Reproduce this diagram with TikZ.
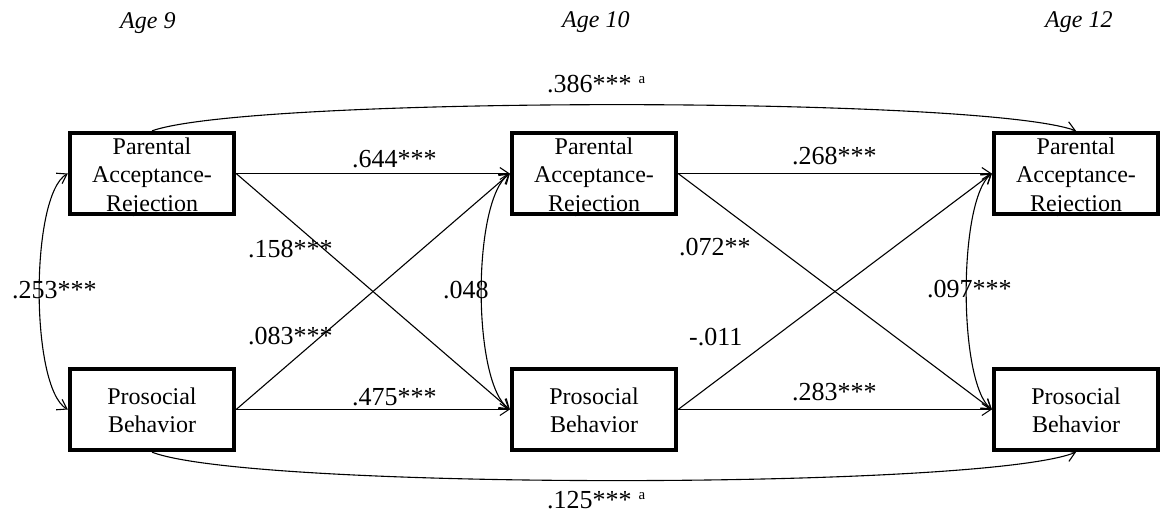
\documentclass[tikz,border=0pt]{standalone}
\usepackage{fontspec}
\setmainfont{Liberation Serif}
\usetikzlibrary{arrows.meta}
\newcommand\stk[1]{\begin{tabular}[t]{@{}c@{}}#1\end{tabular}}
\newcommand\supa{\hspace{7pt}\raisebox{9pt}{\fontsize{15}{15}\selectfont a}}
\begin{document}
\begin{tikzpicture}[x=1pt,y=-1pt,
  box/.style={draw,line width=4.3pt,minimum width=164pt,minimum height=81pt,inner sep=0pt},
  boxtext/.style={anchor=base,inner sep=0pt,font=\fontsize{24}{28.5}\selectfont},
  lab/.style={anchor=base west,inner sep=0pt,font=\fontsize{26}{30}\selectfont},
  age/.style={anchor=base west,inner sep=0pt,font=\fontsize{24}{28}\selectfont\itshape},
  conn/.style={line width=1.1pt,-{Straight Barb[length=9pt,width=12pt]}},
  corr/.style={line width=1.1pt,{Straight Barb[length=9pt,width=12pt]}-{Straight Barb[length=9pt,width=12pt]}}]
\useasboundingbox (0,0) rectangle (1160,517);

% age headings
\node[age] (a9) at (120,28) {Age 9};
\node[age] (a10) at (562,27) {Age 10};
\node[age] (a12) at (1045,27) {Age 12};

% boxes
\node[box] (p9) at (152,173.5) {};
\node[box] (pb9) at (152,409.5) {};
\node[box] (p10) at (594,173.5) {};
\node[box] (pb10) at (594,409.5) {};
\node[box] (p12) at (1076,173.5) {};
\node[box] (pb12) at (1076,409.5) {};

\node[boxtext] (tp9) at (152,154) {\stk{Parental\\Acceptance-\\Rejection}};
\node[boxtext] (tp10) at (594,154) {\stk{Parental\\Acceptance-\\Rejection}};
\node[boxtext] (tp12) at (1076,154) {\stk{Parental\\Acceptance-\\Rejection}};
\node[boxtext] (tpb9) at (152,404) {\stk{Prosocial\\Behavior}};
\node[boxtext] (tpb10) at (594,404) {\stk{Prosocial\\Behavior}};
\node[boxtext] (tpb12) at (1076,404) {\stk{Prosocial\\Behavior}};

% paths 9 -> 10
\draw[conn] (p9.east) -- (p10.west);
\draw[conn] (pb9.east) -- (pb10.west);
\draw[conn] (p9.east) -- (pb10.west);
\draw[conn] (pb9.east) -- (p10.west);
% paths 10 -> 12
\draw[conn] (p10.east) -- (p12.west);
\draw[conn] (pb10.east) -- (pb12.west);
\draw[conn] (p10.east) -- (pb12.west);
\draw[conn] (pb10.east) -- (p12.west);
% long paths
\draw[conn] (p9.north) .. controls (250,96) and (980,96) .. (p12.north);
\draw[conn] (pb9.south) .. controls (250,490) and (980,490) .. (pb12.south);
% correlations
\draw[corr] (p9.west) .. controls (30,195) and (30,388) .. (pb9.west);
\draw[corr] (p10.west) .. controls (472,200) and (472,383) .. (pb10.west);
\draw[corr] (p12.west) .. controls (958,200) and (958,383) .. (pb12.west);

% labels
\node[lab] (l1) at (352,167) {.644***};
\node[lab] (l2) at (352,405) {.475***};
\node[lab] (l3) at (248,257) {.158***};
\node[lab] (l4) at (248,344) {.083***};
\node[lab] (l5) at (12,298) {.253***};
\node[lab] (l6) at (443,298) {.048};
\node[lab] (l7) at (792,164) {.268***};
\node[lab] (l8) at (792,400) {.283***};
\node[lab] (l9) at (679,255) {.072**};
\node[lab] (l10) at (689,345) {-.011};
\node[lab] (l11) at (927,297) {.097***};
\node[lab] (l12) at (547,92) {.386***\supa};
\node[lab] (l13) at (547,508) {.125***\supa};
\end{tikzpicture}
\end{document}
